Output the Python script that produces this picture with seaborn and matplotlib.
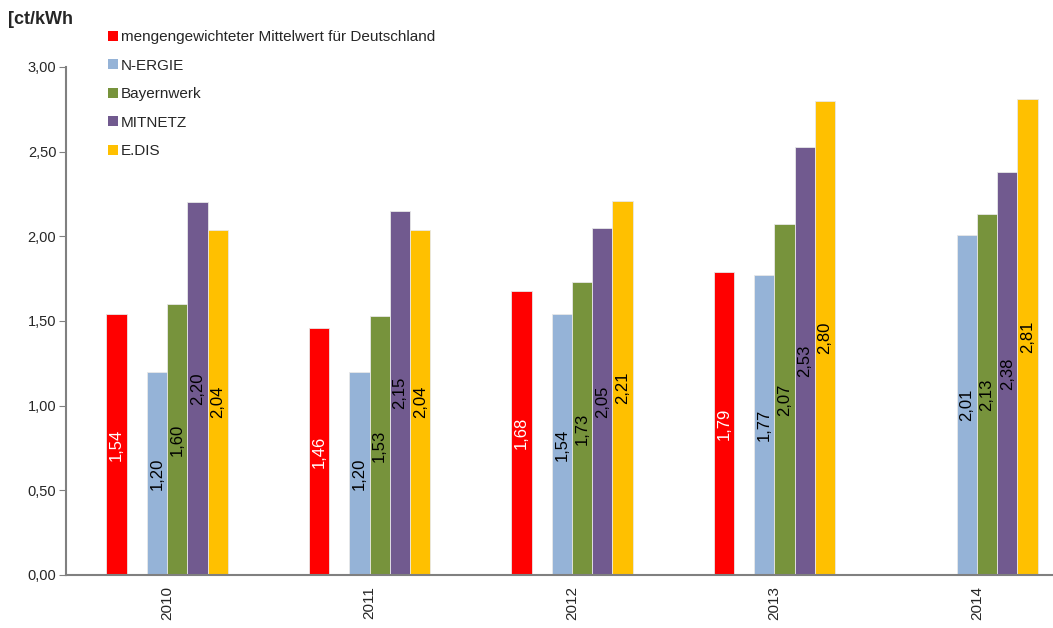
import pandas as pd
import matplotlib.pyplot as plt
import matplotlib.ticker as mticker
from matplotlib.colors import to_hex
from matplotlib.patches import Patch
import seaborn as sns

# data
years = ['2010', '2011', '2012', '2013', '2014']
series = ['mengengewichteter Mittelwert für Deutschland', 'N-ERGIE', 'Bayernwerk', 'MITNETZ', 'E.DIS']
deutschland = [1.54, 1.46, 1.68, 1.79, None]
nergie = [1.20, 1.20, 1.54, 1.77, 2.01]
bayernwerk = [1.60, 1.53, 1.73, 2.07, 2.13]
mitnetz = [2.20, 2.15, 2.05, 2.53, 2.38]
edis = [2.04, 2.04, 2.21, 2.80, 2.81]

colors = ['#FF0000', '#95B3D7', '#77933C', '#715A8F', '#FFC000']
label_colors = ['white', 'black', 'black', 'black', 'black']

rows = []
for name, vals in zip(series, [deutschland, nergie, bayernwerk, mitnetz, edis]):
    for y, v in zip(years, vals):
        if v is not None:
            rows.append({'Jahr': y, 'Serie': name, 'Wert': v})
df = pd.DataFrame(rows)

# empty slot between the German average and the grid operators
hue_order = [series[0], ' '] + series[1:]
palette = {s: c for s, c in zip(series, colors)}
palette[' '] = '#FFFFFE'

sns.set_style('white')
plt.rcParams['font.family'] = ['Liberation Sans', 'DejaVu Sans']

fig = plt.figure(figsize=(10.53, 6.28), dpi=100)
ax = fig.add_axes([66 / 1053, 1 - 575 / 628, 1 - 66 / 1053, (575 - 67) / 628])

sns.barplot(data=df, x='Jahr', y='Wert', hue='Serie', order=years, hue_order=hue_order,
            palette=palette, saturation=1, width=0.6, dodge=True, edgecolor='#E8E8E8',
            linewidth=0.6, legend=False, ax=ax)

fmt = lambda v: f'{v:.2f}'.replace('.', ',')
color_to_idx = {c.lower(): i for i, c in enumerate(colors)}
for cont in ax.containers:
    if len(cont.patches) == 0:
        continue
    fc = to_hex(cont.patches[0].get_facecolor()).lower()
    if fc not in color_to_idx:
        continue
    col = label_colors[color_to_idx[fc]]
    ax.bar_label(cont, labels=[fmt(b.get_height()) if b.get_height() > 0 else '' for b in cont],
                 label_type='center', rotation=90, color=col, fontsize=12)

ax.yaxis.set_major_locator(mticker.MultipleLocator(0.5))
ax.yaxis.set_major_formatter(mticker.FuncFormatter(lambda v, p: fmt(v)))
ax.set_xticks(range(len(years)))
ax.set_xticklabels(years, rotation=90)
ax.set_xticks([i + 0.5 for i in range(-1, 5)], minor=True)
ax.set_ylim(0, 3.0)
ax.set_xlim(-0.5, 4.5 - 25 / 202.5)
ax.tick_params(axis='x', which='major', length=0, labelsize=11, pad=8)
ax.tick_params(axis='x', which='minor', length=5, color='#808080', direction='out')
ax.tick_params(axis='y', length=5, color='#808080', direction='out', labelsize=10.5,
               pad=2, left=True)
ax.set_xlabel('')
ax.set_ylabel('')
for s in ['top', 'right']:
    ax.spines[s].set_visible(False)
for s in ['left', 'bottom']:
    ax.spines[s].set_color('#808080')
    ax.spines[s].set_linewidth(1.5)

fig.text(8 / 1053, 1 - 20 / 628, '[ct/kWh', fontsize=13, fontweight='bold', va='center')

handles = [Patch(facecolor=c, edgecolor='none') for c in colors]
fig.legend(handles, series, loc='upper left', bbox_to_anchor=(102 / 1053, 1 - 24 / 628),
           frameon=False, fontsize=11, handlelength=0.65, handleheight=0.65,
           handletextpad=0.2, labelspacing=0.95, borderaxespad=0)

fig.savefig('out.png', dpi=100)
